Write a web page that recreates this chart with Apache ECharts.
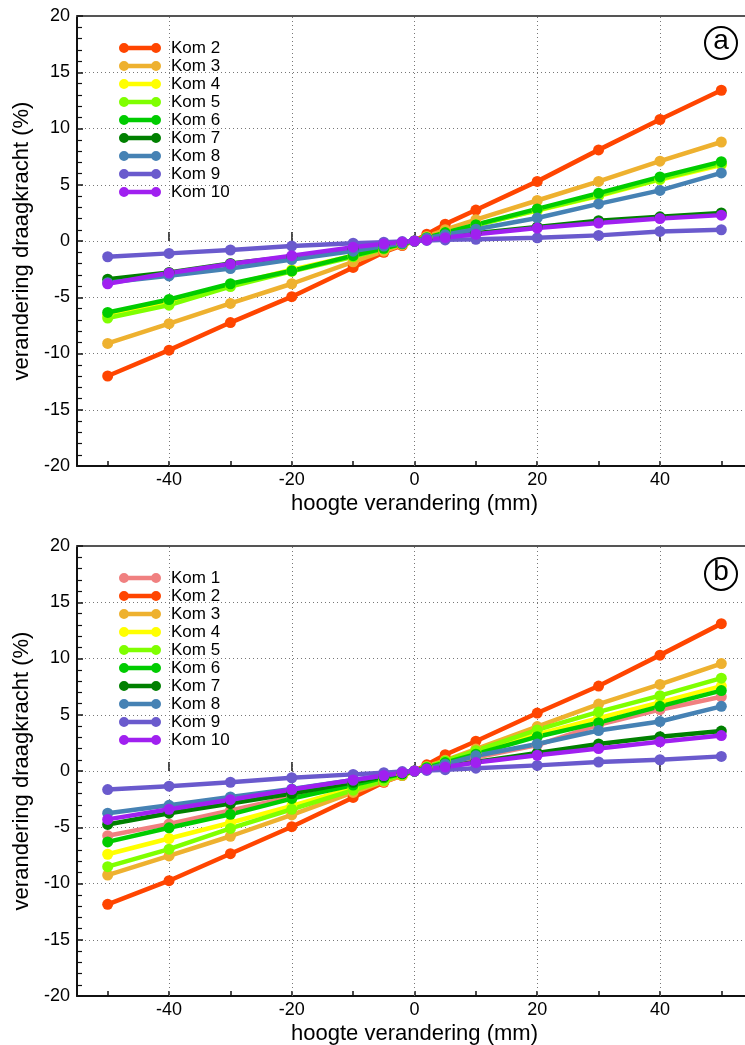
<!DOCTYPE html>
<html><head><meta charset="utf-8">
<script src="https://cdn.jsdelivr.net/npm/echarts@6/dist/echarts.min.js"></script>
<style>html,body{margin:0;padding:0;background:#fff;overflow:hidden}#c{width:745px;height:1045px}</style>
</head><body><div id="c"></div>
<script>
// ---------- data ----------
const xValues = [-50,-40,-30,-20,-10,-5,-2,0,2,5,10,20,30,40,50];
const xTickValues = [-50,-40,-30,-20,-10,0,10,20,30,40,50];
const xMajorTickValues = [-40,-20,0,20,40];
const xLabelValues = [-40,-20,0,20,40];
const xGridValues = [-40,-20,0,20,40];

const seriesNames = ['Kom 1','Kom 2','Kom 3','Kom 4','Kom 5','Kom 6','Kom 7','Kom 8','Kom 9','Kom 10'];
const seriesColors = ['#F08080','#FF4500','#EEB12F','#FFFF00','#7FFF00','#00CC00','#008000','#4682B4','#6A5ACD','#A020F0'];

// panel a (Kom 2 .. Kom 10)
const namesA = ['Kom 2','Kom 3','Kom 4','Kom 5','Kom 6','Kom 7','Kom 8','Kom 9','Kom 10'];
const kom2A  = [-12.0,-9.7,-7.25,-4.95,-2.35,-1.0,-0.4,0,0.6,1.5,2.75,5.3,8.1,10.8,13.4];
const kom3A  = [-9.1,-7.35,-5.55,-3.8,-1.85,-0.9,-0.35,0,0.4,1.0,1.9,3.6,5.3,7.1,8.8];
const kom4A  = [-6.6,-5.45,-3.9,-2.55,-1.3,-0.65,-0.25,0,0.3,0.75,1.45,2.7,4.0,5.45,6.75];
const kom5A  = [-6.85,-5.7,-4.05,-2.7,-1.4,-0.7,-0.25,0,0.3,0.7,1.4,2.75,4.05,5.5,6.85];
const kom6A  = [-6.35,-5.2,-3.8,-2.65,-1.3,-0.65,-0.25,0,0.3,0.75,1.45,2.85,4.25,5.7,7.05];
const kom7A  = [-3.4,-2.8,-2.0,-1.4,-0.7,-0.35,-0.15,0,0.15,0.35,0.7,1.25,1.8,2.15,2.5];
const kom8A  = [-3.7,-3.1,-2.45,-1.65,-0.9,-0.45,-0.2,0,0.25,0.55,1.05,2.05,3.3,4.5,6.05];
const kom9A  = [-1.4,-1.1,-0.8,-0.45,-0.2,-0.1,-0.05,0,0.05,0.1,0.15,0.28,0.5,0.85,1.0];
const kom10A = [-3.8,-2.85,-2.05,-1.3,-0.55,-0.25,-0.1,0,0.1,0.3,0.6,1.15,1.6,2.0,2.3];

// panel b (Kom 1 .. Kom 10)
const namesB = ['Kom 1','Kom 2','Kom 3','Kom 4','Kom 5','Kom 6','Kom 7','Kom 8','Kom 9','Kom 10'];
const kom1B  = [-5.75,-4.7,-3.5,-2.3,-1.15,-0.6,-0.25,0,0.25,0.6,1.2,2.3,4.1,5.45,6.6];
const kom2B  = [-11.85,-9.75,-7.35,-4.95,-2.35,-1.0,-0.4,0,0.55,1.45,2.65,5.15,7.55,10.3,13.1];
const kom3B  = [-9.25,-7.55,-5.8,-3.9,-1.9,-0.95,-0.4,0,0.4,0.95,1.95,3.95,5.95,7.7,9.55];
const kom4B  = [-7.4,-6.0,-4.6,-3.1,-1.5,-0.75,-0.3,0,0.3,0.8,1.55,3.25,4.7,6.1,7.55];
const kom5B  = [-8.5,-6.95,-5.1,-3.4,-1.7,-0.85,-0.35,0,0.35,0.9,1.8,3.65,5.25,6.7,8.25];
const kom6B  = [-6.3,-5.05,-3.85,-2.45,-1.25,-0.6,-0.25,0,0.3,0.75,1.5,3.05,4.3,5.75,7.15];
const kom7B  = [-4.75,-3.75,-2.9,-2.0,-1.0,-0.5,-0.2,0,0.2,0.4,0.8,1.6,2.4,3.05,3.55];
const kom8B  = [-3.75,-3.05,-2.3,-1.6,-0.8,-0.4,-0.15,0,0.2,0.6,1.35,2.4,3.6,4.4,5.75];
const kom9B  = [-1.65,-1.35,-1.0,-0.6,-0.3,-0.15,-0.05,0,0.05,0.12,0.25,0.5,0.8,1.0,1.3];
const kom10B = [-4.3,-3.4,-2.55,-1.65,-0.8,-0.4,-0.15,0,0.15,0.35,0.75,1.4,2.0,2.6,3.15];

const yMin = -20, yMax = 20, yInterval = 5;
const xMin = -55, xMax = 55;
const panelLabels = ['a','b'];
const xTitle = 'hoogte verandering (mm)';
const yTitle = 'verandering draagkracht (%)';

// ---------- chart ----------
const FONT = '"Liberation Sans", Arial, Helvetica, sans-serif';
const valuesA = [kom2A,kom3A,kom4A,kom5A,kom6A,kom7A,kom8A,kom9A,kom10A];
const valuesB = [kom1B,kom2B,kom3B,kom4B,kom5B,kom6B,kom7B,kom8B,kom9B,kom10B];
const grids = [
  {left:77, top:16, width:675, height:450, show:false, outerBoundsMode:'none', containLabel:false},
  {left:77, top:546, width:675, height:450, show:false, outerBoundsMode:'none', containLabel:false}
];
const xAxes = [], yAxes = [];
[0,1].forEach(g => {
  xAxes.push({
    type:'value', gridIndex:g, min:xMin, max:xMax, position:'bottom',
    name:xTitle, nameLocation:'middle', nameGap:27,
    nameTextStyle:{fontSize:22, fontFamily:FONT, color:'#000'},
    axisLine:{show:true, onZero:false, lineStyle:{color:'#111', width:2}},
    axisTick:{show:true, inside:true, length:5, customValues:xTickValues, lineStyle:{color:'#111', width:1.5}},
    axisLabel:{show:true, customValues:xLabelValues, margin:5, fontSize:18, fontFamily:FONT, color:'#000'},
    splitLine:{show:false}
  });
  xAxes.push({
    type:'value', gridIndex:g, min:xMin, max:xMax, position:'bottom', offset:0,
    axisLine:{show:false},
    axisTick:{show:true, inside:true, length:9, customValues:xMajorTickValues, lineStyle:{color:'#111', width:1.5}},
    axisLabel:{show:false},
    splitLine:{show:false}
  });
  xAxes.push({
    type:'value', gridIndex:g, min:xMin, max:xMax, position:'top', offset:0,
    axisLine:{show:true, onZero:false, lineStyle:{color:'#555', width:2}},
    axisTick:{show:false}, axisLabel:{show:false}, splitLine:{show:false}
  });
  yAxes.push({
    type:'value', gridIndex:g, min:yMin, max:yMax, interval:yInterval,
    name:yTitle, nameLocation:'middle', nameGap:38,
    nameTextStyle:{fontSize:22, fontFamily:FONT, color:'#000'},
    axisLine:{show:true, onZero:false, lineStyle:{color:'#111', width:2}},
    axisTick:{show:true, inside:true, length:6, lineStyle:{color:'#111', width:1.5}},
    minorTick:{show:true, splitNumber:5, length:5, lineStyle:{color:'#111', width:1.2}},
    axisLabel:{margin:7, fontSize:18, fontFamily:FONT, color:'#000'},
    splitLine:{show:true, lineStyle:{type:[1,3], color:'#777', width:1}}
  });
});

function makeSeries(names, values, g) {
  return names.map((n, i) => {
    const c = seriesColors[seriesNames.indexOf(n)];
    const s = {
      type:'line', name:n, xAxisIndex:g*3, yAxisIndex:g,
      data: xValues.map((x, k) => [x, values[i][k]]),
      symbol:'circle', symbolSize:11, showSymbol:true,
      lineStyle:{width:4.5, color:c}, itemStyle:{color:c},
      emphasis:{disabled:true}, animation:false, z:3
    };
    if (i === 0) {
      s.markLine = {
        silent:true, symbol:['none','none'], label:{show:false}, z:1,
        lineStyle:{type:[1,3], color:'#777', width:1},
        emphasis:{disabled:true},
        data: xGridValues.map(v => ({xAxis:v}))
      };
    }
    return s;
  });
}
const series = makeSeries(namesA, valuesA, 0).concat(makeSeries(namesB, valuesB, 1));

const iconPath = 'path://M0,5A5,5,0,1,1,10,5A5,5,0,1,1,0,5ZM32,5A5,5,0,1,1,42,5A5,5,0,1,1,32,5ZM5,2.8L37,2.8L37,7.2L5,7.2Z';
const legendBase = {
  orient:'vertical', itemWidth:42, itemHeight:10, itemGap:1, icon:iconPath,
  selectedMode:false,
  textStyle:{fontSize:17, fontFamily:FONT, color:'#000', lineHeight:17, padding:[0,0,0,5]}
};

const chart = echarts.init(document.getElementById('c'), null, {renderer:'canvas'});
chart.setOption({
  backgroundColor:'#fff',
  animation:false,
  grid: grids,
  xAxis: xAxes,
  yAxis: yAxes,
  legend: [
    Object.assign({}, legendBase, {data:namesA, left:114, top:34.5}),
    Object.assign({}, legendBase, {data:namesB, left:114, top:564.5})
  ],
  graphic: [
    {type:'circle', shape:{cx:721, cy:43, r:16}, style:{fill:'none', stroke:'#000', lineWidth:2}, z:10},
    {type:'text', x:721, y:41, style:{text:panelLabels[0], fontSize:28, fontFamily:FONT, fill:'#000', align:'center', verticalAlign:'middle'}, z:10},
    {type:'circle', shape:{cx:721, cy:574, r:16}, style:{fill:'none', stroke:'#000', lineWidth:2}, z:10},
    {type:'text', x:721, y:572, style:{text:panelLabels[1], fontSize:28, fontFamily:FONT, fill:'#000', align:'center', verticalAlign:'middle'}, z:10}
  ],
  series: series
});
</script></body></html>
